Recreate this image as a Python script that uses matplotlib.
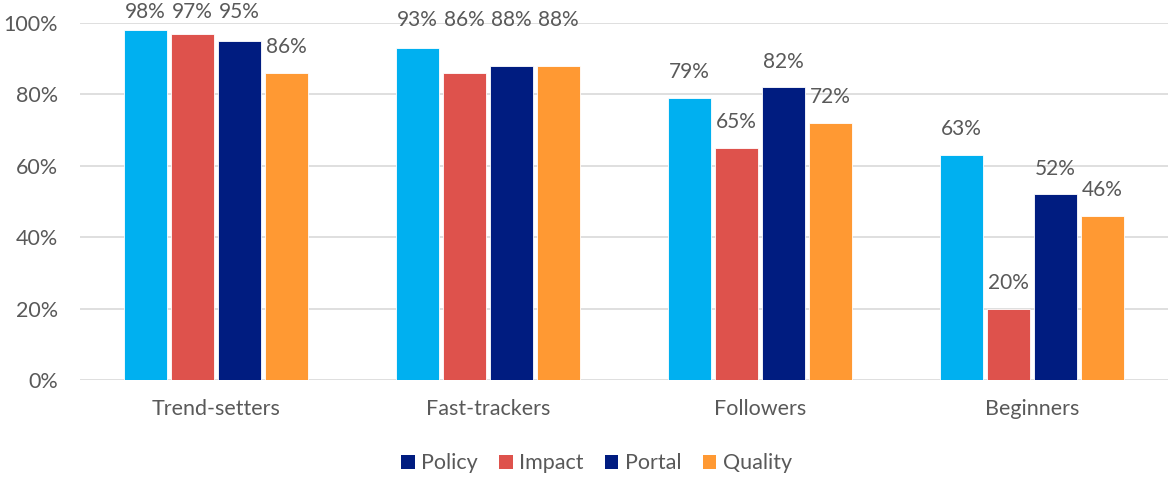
import matplotlib
matplotlib.use("Agg")
import matplotlib.pyplot as plt
import numpy as np
from matplotlib.patches import Patch

categories = ["Trend-setters", "Fast-trackers", "Followers", "Beginners"]
series_names = ["Policy", "Impact", "Portal", "Quality"]
policy = [98, 93, 79, 63]
impact = [97, 86, 65, 20]
portal = [95, 88, 82, 52]
quality = [86, 88, 72, 46]
y_ticks = [0, 20, 40, 60, 80, 100]

colors = ["#00B0F0", "#DE524C", "#001C80", "#FF9933"]
legend_colors = ["#001C80", "#DE524C", "#001C80", "#FF9933"]
text_color = "#595959"

plt.rcParams['font.family'] = ['Lato', 'DejaVu Sans']
FS = 15.5

fig = plt.figure(figsize=(11.69, 4.78), dpi=100)
ax = fig.add_axes([0.0684, 0.205, 0.9307, 0.747])

data = [policy, impact, portal, quality]
x = np.arange(len(categories))
width = 0.158
step = 0.173
offsets = [-1.5 * step, -0.5 * step, 0.5 * step, 1.5 * step]

# label y overrides (Excel collision avoidance), by (category, series)
label_override = {(0, 0): 103.2, (0, 1): 103.2, (0, 2): 103.2,
                  (1, 0): 100.8, (1, 1): 100.8, (1, 2): 100.8, (1, 3): 100.8}

for s, (vals, col, off) in enumerate(zip(data, colors, offsets)):
    ax.bar(x + off, vals, width=width, color=col, edgecolor="white", linewidth=0.6, zorder=3)
    for c, v in enumerate(vals):
        ly = label_override.get((c, s), v + 7.2)
        ax.text(x[c] + off, ly, f"{v}%", ha="center", va="center", fontsize=FS - 0.5,
                color=text_color, clip_on=False, zorder=4)

ax.set_xlim(-0.5, 3.5)
ax.set_ylim(0, 100)
ax.set_yticks(y_ticks)
ax.set_yticklabels([f"{t}%" for t in y_ticks])
ax.set_xticks(x)
ax.set_xticklabels(categories)
ax.tick_params(axis="both", length=0, labelsize=FS, colors=text_color)
ax.tick_params(axis="x", pad=14)
ax.tick_params(axis="y", pad=16)
ax.grid(axis="y", color="#D9D9D9", linewidth=1.2, zorder=0)
ax.set_axisbelow(True)
for sp in ax.spines.values():
    sp.set_visible(False)

handles = [Patch(facecolor=c, edgecolor="none") for c in legend_colors]
fig.legend(handles, series_names, loc="center", bbox_to_anchor=(0.5103, 0.031), ncol=4,
           frameon=False, fontsize=FS, labelcolor=text_color, handlelength=0.62,
           handleheight=0.62, handletextpad=0.3, columnspacing=1.0)

fig.savefig("out.png", dpi=100)
